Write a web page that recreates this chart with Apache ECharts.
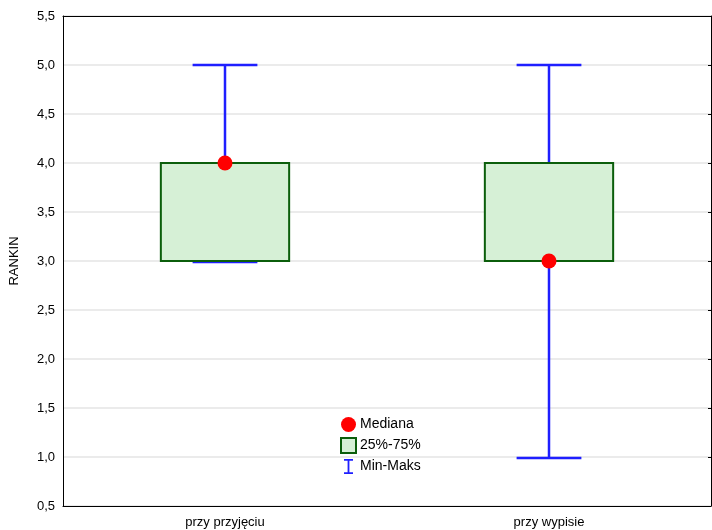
<!DOCTYPE html>
<html><head><meta charset="utf-8">
<script src="https://cdn.jsdelivr.net/npm/echarts@6/dist/echarts.min.js"></script>
<style>html,body{margin:0;padding:0;background:#fff}#c{width:712px;height:530px}</style>
</head><body><div id="c"></div>
<script>
const categories = ['przy przyjęciu', 'przy wypisie'];
const minValues = [3, 1];
const q1Values = [3, 3];
const medianValues = [4, 3];
const q3Values = [4, 4];
const maxValues = [5, 5];

const FONT = '"Liberation Sans", Arial, sans-serif';
const BLUE = '#1f1fff';
const GREEN_BORDER = '#0b5e0b';
const GREEN_FILL = '#d6f0d6';

const chart = echarts.init(document.getElementById('c'));

const whiskerData = categories.map((c, i) => [i, minValues[i], q1Values[i], q3Values[i], maxValues[i]]);
const boxData = categories.map((c, i) => [i, q1Values[i], q3Values[i]]);
const medianData = categories.map((c, i) => [i, medianValues[i]]);

chart.setOption({
  animation: false,
  grid: { left: 62, right: 1, top: 16, bottom: 24 },
  legend: {
    orient: 'vertical', left: 335, top: 412, itemGap: 5,
    itemWidth: 15, itemHeight: 15, padding: 5,
    textStyle: { fontFamily: FONT, fontSize: 14, color: '#000', padding: [0, 0, 0, -1] },
    data: [
      { name: 'Mediana', icon: 'circle', itemStyle: { color: '#ff0000', opacity: 1 } },
      { name: '25%-75%', icon: 'rect', itemStyle: { color: GREEN_FILL, borderColor: GREEN_BORDER, borderWidth: 2 } },
      { name: 'Min-Maks', icon: 'path://M0,0H12V2.4H7.2V17.6H12V20H0V17.6H4.8V2.4H0Z', itemStyle: { color: BLUE, borderWidth: 0 } }
    ]
  },
  xAxis: [
    {
      type: 'category', data: categories, position: 'bottom', boundaryGap: true,
      axisLine: { lineStyle: { color: '#000', width: 1 } },
      axisTick: { alignWithLabel: true, inside: true, length: 3, lineStyle: { color: '#000' } },
      axisLabel: { fontFamily: FONT, fontSize: 13, color: '#000', margin: 10 },
      splitLine: { show: false }
    },
    {
      type: 'category', data: categories, position: 'top', boundaryGap: true,
      axisLine: { lineStyle: { color: '#000', width: 1 } },
      axisTick: { alignWithLabel: true, inside: true, length: 3, lineStyle: { color: '#000' } },
      axisLabel: { show: false }, splitLine: { show: false }
    }
  ],
  yAxis: [
    {
      type: 'value', min: 0.5, max: 5.5, interval: 0.5, position: 'left',
      name: 'RANKIN', nameLocation: 'middle', nameGap: 42, nameRotate: 90,
      nameTextStyle: { fontFamily: FONT, fontSize: 13, color: '#000' },
      axisLine: { show: true, lineStyle: { color: '#000', width: 1 } },
      axisTick: { show: false },
      axisLabel: { fontFamily: FONT, fontSize: 13, color: '#000', margin: 8,
        formatter: v => v.toFixed(1).replace('.', ',') },
      splitLine: { show: true, lineStyle: { color: '#e4e4e4', width: 1.5 } }
    },
    {
      type: 'value', min: 0.5, max: 5.5, interval: 0.5, position: 'right',
      axisLine: { show: true, lineStyle: { color: '#000', width: 1 } },
      axisTick: { show: true, inside: true, length: 3, lineStyle: { color: '#000' } },
      axisLabel: { show: false }, splitLine: { show: false }
    }
  ],
  series: [
    {
      name: 'Min-Maks', type: 'custom', xAxisIndex: 0, yAxisIndex: 0,
      itemStyle: { color: BLUE },
      data: whiskerData, z: 2,
      renderItem: function (params, api) {
        const x = api.value(0);
        const band = api.size([1, 0])[0];
        const capHalf = band * 0.1;
        const pMin = api.coord([x, api.value(1)]);
        const pQ1 = api.coord([x, api.value(2)]);
        const pQ3 = api.coord([x, api.value(3)]);
        const pMax = api.coord([x, api.value(4)]);
        const style = { stroke: BLUE, lineWidth: 2.5 };
        return {
          type: 'group', children: [
            { type: 'line', shape: { x1: pMax[0], y1: pMax[1], x2: pQ3[0], y2: pQ3[1] }, style: style },
            { type: 'line', shape: { x1: pMin[0], y1: pMin[1], x2: pQ1[0], y2: pQ1[1] }, style: style },
            { type: 'line', shape: { x1: pMax[0] - capHalf, y1: pMax[1], x2: pMax[0] + capHalf, y2: pMax[1] }, style: style },
            { type: 'line', shape: { x1: pMin[0] - capHalf, y1: pMin[1] + 1, x2: pMin[0] + capHalf, y2: pMin[1] + 1 }, style: style }
          ]
        };
      }
    },
    {
      name: '25%-75%', type: 'custom', xAxisIndex: 0, yAxisIndex: 0,
      itemStyle: { color: GREEN_FILL, borderColor: GREEN_BORDER },
      data: boxData, z: 3,
      renderItem: function (params, api) {
        const x = api.value(0);
        const band = api.size([1, 0])[0];
        const half = band * 0.198;
        const pLo = api.coord([x, api.value(1)]);
        const pHi = api.coord([x, api.value(2)]);
        return {
          type: 'rect',
          shape: { x: pLo[0] - half, y: pHi[1], width: half * 2, height: pLo[1] - pHi[1] },
          style: { fill: GREEN_FILL, stroke: GREEN_BORDER, lineWidth: 2 }
        };
      }
    },
    {
      name: 'Mediana', type: 'scatter', xAxisIndex: 0, yAxisIndex: 0,
      symbol: 'circle', symbolSize: 15, z: 5,
      itemStyle: { color: '#ff0000', opacity: 1 },
      data: medianData
    }
  ]
});
</script>
</body></html>
